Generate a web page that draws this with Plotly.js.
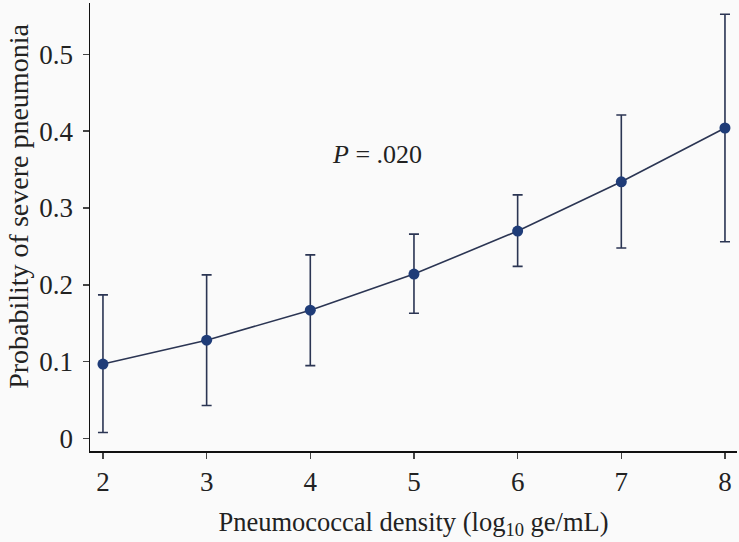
<!DOCTYPE html>
<html>
<head>
<meta charset="utf-8">
<script src="https://cdn.plot.ly/plotly-3.0.1.min.js"></script>
<style>html,body{margin:0;padding:0;background:#fafafa;}#chart{width:739px;height:542px;}</style>
</head>
<body>
<div id="chart"></div>
<script>
const density = [2, 3, 4, 5, 6, 7, 8];
const probability = [0.097, 0.128, 0.167, 0.214, 0.270, 0.334, 0.404];
const upperCI = [0.187, 0.213, 0.239, 0.266, 0.317, 0.421, 0.552];
const lowerCI = [0.008, 0.043, 0.095, 0.163, 0.224, 0.248, 0.256];
const yTicks = [0, 0.1, 0.2, 0.3, 0.4, 0.5];
const yTickLabels = ['0', '0.1', '0.2', '0.3', '0.4', '0.5'];
const xTicks = [2, 3, 4, 5, 6, 7, 8];
const pText = '<i>P</i> = .020';
const yTitle = 'Probability of severe pneumonia';
const xTitle = 'Pneumococcal density (log<sub>10</sub> ge/mL)';

const errPlus = probability.map((v, i) => upperCI[i] - v);
const errMinus = probability.map((v, i) => v - lowerCI[i]);

const font = "'Liberation Serif', 'DejaVu Serif', serif";
const trace = {
  x: density, y: probability, type: 'scatter', mode: 'lines+markers',
  line: {color: '#2b3553', width: 1.6},
  marker: {color: '#1f3c78', size: 11},
  error_y: {type: 'data', symmetric: false, array: errPlus, arrayminus: errMinus,
    color: '#2b3553', thickness: 1.6, width: 5},
  hoverinfo: 'skip'
};
const layout = {
  width: 739, height: 542,
  margin: {l: 90, r: 2, t: 3, b: 91},
  paper_bgcolor: '#fafafa', plot_bgcolor: '#fafafa',
  showlegend: false,
  font: {family: font, color: '#222', size: 27},
  xaxis: {
    range: [1.875, 8.116], tickvals: xTicks, ticktext: xTicks.map(String),
    showgrid: false, zeroline: false, showline: true, linecolor: '#111', linewidth: 1.5,
    ticks: 'outside', ticklen: 6, tickwidth: 1.3, tickcolor: '#444',
    tickfont: {family: font, size: 27, color: '#222'},
    title: {text: xTitle, font: {family: font, size: 26.5, color: '#222'}, standoff: 16}
  },
  yaxis: {
    range: [-0.0161, 0.5666], tickvals: yTicks, ticktext: yTickLabels,
    showgrid: false, zeroline: false, showline: true, linecolor: '#111', linewidth: 1.5,
    ticks: 'outside', ticklen: 6, tickwidth: 1.3, tickcolor: '#444',
    ticklabelstandoff: 4,
    tickfont: {family: font, size: 27, color: '#222'}
  },
  annotations: [{
    x: 4.647, y: 0.369, xref: 'x', yref: 'y', text: pText, showarrow: false,
    font: {family: font, size: 26, color: '#222'}
  }, {
    x: -0.111, y: 0.3017, xref: 'paper', yref: 'y', text: yTitle, showarrow: false,
    textangle: -90, xanchor: 'center', yanchor: 'middle',
    font: {family: font, size: 28, color: '#222'}
  }]
};
Plotly.newPlot('chart', [trace], layout, {displayModeBar: false, staticPlot: true});
</script>
</body>
</html>
